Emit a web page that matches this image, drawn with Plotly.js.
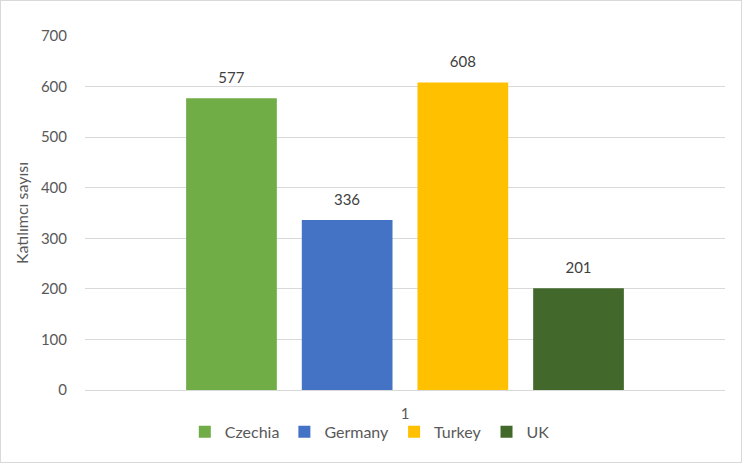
<!DOCTYPE html>
<html><head><meta charset="utf-8">
<script src="https://cdn.plot.ly/plotly-3.0.1.min.js"></script>
<style>
html,body{margin:0;padding:0;background:#fff;}
#wrap{width:742px;height:463px;box-sizing:border-box;border:1px solid #d9d9d9;}
#chart{width:740px;height:461px;}
</style></head>
<body><div id="wrap"><div id="chart"></div></div>
<script>
const categories = ['1'];
const seriesNames = ['Czechia', 'Germany', 'Turkey', 'UK'];
const czechia = [577];
const germany = [336];
const turkey = [608];
const uk = [201];
const seriesValues = [czechia, germany, turkey, uk];
const colors = ['#70AD47', '#4472C4', '#FFC000', '#43682B'];
const yTicks = [0, 100, 200, 300, 400, 500, 600, 700];

const font = "Lato, 'Open Sans', sans-serif";
const traces = seriesNames.map((name, i) => ({
  type: 'bar',
  name: name,
  x: categories,
  y: seriesValues[i],
  marker: {color: colors[i]},
  text: seriesValues[i].map(v => "<span style='font-size:15px'>" + v + "</span><br> "),
  textposition: 'outside',
  textfont: {size: 8, color: '#404040', family: font},
  cliponaxis: false,
  hoverinfo: 'none'
}));

const layout = {
  width: 740, height: 461,
  margin: {l: 84, r: 16, t: 35, b: 72},
  paper_bgcolor: '#fff', plot_bgcolor: '#fff',
  barmode: 'group',
  bargap: 0.277,
  bargroupgap: 0.216,
  font: {family: font, color: '#595959', size: 15},
  xaxis: {
    type: 'category',
    showgrid: false,
    showline: true, linecolor: '#d9d9d9', linewidth: 1,
    ticks: '', tickfont: {size: 15, color: '#595959'},
    ticklabelstandoff: 10
  },
  yaxis: {
    range: [0, 700],
    tickvals: yTicks,
    showgrid: true, gridcolor: '#d9d9d9', gridwidth: 1,
    zeroline: false,
    showline: false,
    ticks: '', tickfont: {size: 15, color: '#595959'},
    ticklabelstandoff: 17,
    title: {text: 'Katılımcı sayısı', font: {size: 16, color: '#595959'}, standoff: 8}
  },
  showlegend: true,
  legend: {
    orientation: 'h', x: 0.445, xanchor: 'center', y: -0.07, yanchor: 'top',
    bgcolor: 'rgba(0,0,0,0)',
    font: {size: 16, color: '#595959'},
    itemwidth: 30, tracegroupgap: 0
  }
};

Plotly.newPlot('chart', traces, layout, {displayModeBar: false, staticPlot: true});
</script></body></html>
